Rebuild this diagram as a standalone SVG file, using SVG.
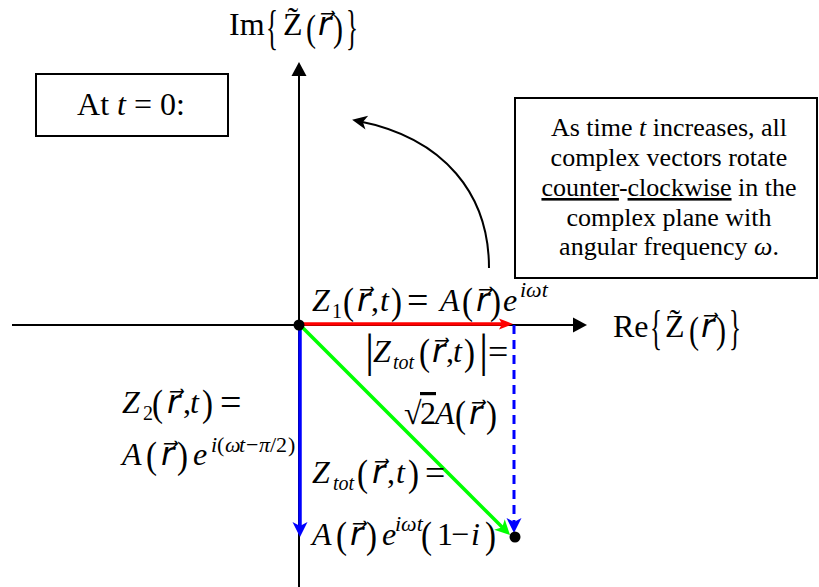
<svg xmlns="http://www.w3.org/2000/svg" width="819" height="587" viewBox="0 0 819 587">
<style>
.m{font-family:"Liberation Serif","DejaVu Serif","DejaVu Sans",serif;font-size:32px;fill:#000}
.i{font-style:italic}
.p{font-size:38px}
.b{font-size:48px}
.s{font-size:20px}
.sp{font-size:22px}
.eq{font-size:38px}
.t{font-family:"Liberation Serif","DejaVu Serif",serif;font-size:26px;fill:#000;text-anchor:middle}
.box{fill:#fff;stroke:#000;stroke-width:2}
.ax{stroke:#000;stroke-width:2;fill:none}
</style>
<defs>
<marker id="hAx" viewBox="-6 -9 18 18" refX="0" refY="0" markerWidth="18" markerHeight="18" markerUnits="userSpaceOnUse" orient="auto"><path d="M10,0 L-4,-7.5 L-4,7.5 Z" fill="#000"/></marker>
<marker id="hRed" viewBox="-10 -9 18 18" refX="0" refY="0" markerWidth="18" markerHeight="18" markerUnits="userSpaceOnUse" orient="auto"><path d="M6,0 L-8,-5.5 L-5,0 L-8,5.5 Z" fill="#f00"/></marker>
<marker id="hBlue" viewBox="-10 -9 18 18" refX="0" refY="0" markerWidth="18" markerHeight="18" markerUnits="userSpaceOnUse" orient="auto"><path d="M6,0 L-9,-7.5 L-5,0 L-9,7.5 Z" fill="#00f"/></marker>
<marker id="hGreen" viewBox="-10 -9 18 18" refX="0" refY="0" markerWidth="18" markerHeight="18" markerUnits="userSpaceOnUse" orient="auto"><path d="M6,0 L-9,-7.5 L-5,0 L-9,7.5 Z" fill="#0f0"/></marker>
<marker id="hBlk" viewBox="-10 -9 18 18" refX="0" refY="0" markerWidth="18" markerHeight="18" markerUnits="userSpaceOnUse" orient="auto"><path d="M6,0 L-9,-7 L-5,0 L-9,7 Z" fill="#000"/></marker>
</defs>
<rect width="819" height="587" fill="#fff"/>

<g id="axes">
<line class="ax" x1="299" y1="587" x2="299" y2="72" marker-end="url(#hAx)"/>
<line class="ax" x1="12" y1="325" x2="577" y2="325" marker-end="url(#hAx)"/>
</g>

<g id="connectors">
<line x1="514" y1="325" x2="514" y2="527" stroke="#00f" stroke-width="3" stroke-dasharray="9 6" marker-end="url(#hBlue)"/>
<line x1="300" y1="325" x2="300" y2="531" stroke="#00f" stroke-width="3.5" marker-end="url(#hBlue)"/>
<line x1="300" y1="325" x2="505.8" y2="530.8" stroke="#0f0" stroke-width="3.5" marker-end="url(#hGreen)"/>
<line x1="299" y1="324" x2="507" y2="324" stroke="#f00" stroke-width="3.5" marker-end="url(#hRed)"/>
<path d="M489,268 C489,195 445,138 358,121" fill="none" stroke="#000" stroke-width="2" marker-end="url(#hBlk)"/>
</g>

<g id="origin"><circle cx="299" cy="325" r="5.5" fill="#000"/></g>
<g id="tip"><circle cx="515" cy="537" r="5.5" fill="#000"/></g>

<g id="box-t0">
<rect class="box" x="36" y="74" width="192" height="62"/>
<text class="m" x="131" y="115" text-anchor="middle">At <tspan class="i">t</tspan> = 0:</text>
</g>

<g id="box-note">
<rect class="box" x="515" y="98" width="302" height="180"/>
<text class="t" x="669" y="136">As time <tspan class="i">t</tspan> increases, all</text>
<text class="t" x="669" y="166">complex vectors rotate</text>
<text class="t" x="669" y="196"><tspan text-decoration="underline">counter</tspan>-<tspan text-decoration="underline">clockwise</tspan> in the</text>
<text class="t" x="669" y="226">complex plane with</text>
<text class="t" x="669" y="255">angular frequency <tspan class="i">ω</tspan>.</text>
</g>

<g id="label-im">
<text class="m"><tspan x="229" y="35">Im</tspan><tspan class="b" x="266" y="44" textLength="12" lengthAdjust="spacingAndGlyphs">{</tspan><tspan x="283" y="35">Z̃</tspan><tspan class="p" x="306" y="41" textLength="10" lengthAdjust="spacingAndGlyphs">(</tspan><tspan class="i" x="318" y="35">r⃗</tspan><tspan class="p" x="333" y="41" textLength="10" lengthAdjust="spacingAndGlyphs">)</tspan><tspan class="b" x="346" y="44" textLength="12" lengthAdjust="spacingAndGlyphs">}</tspan></text>
</g>

<g id="label-re">
<text class="m"><tspan x="613" y="337">Re</tspan><tspan class="b" x="650" y="344" textLength="12" lengthAdjust="spacingAndGlyphs">{</tspan><tspan x="665" y="337">Z̃</tspan><tspan class="p" x="689" y="343" textLength="10" lengthAdjust="spacingAndGlyphs">(</tspan><tspan class="i" x="701" y="337">r⃗</tspan><tspan class="p" x="716" y="343" textLength="10" lengthAdjust="spacingAndGlyphs">)</tspan><tspan class="b" x="729" y="344" textLength="12" lengthAdjust="spacingAndGlyphs">}</tspan></text>
</g>

<g id="label-z1">
<text class="m"><tspan class="i" x="312" y="311">Z</tspan><tspan class="s" x="332" y="318">1</tspan><tspan class="p" x="343" y="314" textLength="11" lengthAdjust="spacingAndGlyphs">(</tspan><tspan class="i" x="357" y="311">r⃗</tspan><tspan x="371" y="311">,</tspan><tspan class="i" x="380" y="311">t</tspan><tspan class="p" x="391" y="314" textLength="11" lengthAdjust="spacingAndGlyphs">)</tspan><tspan class="eq" x="407" y="313">=</tspan><tspan class="i" x="440" y="311">A</tspan><tspan class="p" x="462" y="314" textLength="11" lengthAdjust="spacingAndGlyphs">(</tspan><tspan class="i" x="476" y="311">r⃗</tspan><tspan class="p" x="490" y="314" textLength="11" lengthAdjust="spacingAndGlyphs">)</tspan><tspan class="i" x="503" y="311">e</tspan><tspan class="i sp" x="520" y="297">iωt</tspan></text>
</g>

<g id="label-ztot-mag">
<text class="m"><tspan x="365" y="366" style="font-size:46px">|</tspan><tspan class="i" x="373" y="362">Z</tspan><tspan class="i s" x="393" y="369">tot</tspan><tspan class="p" x="419" y="365" textLength="11" lengthAdjust="spacingAndGlyphs">(</tspan><tspan class="i" x="432" y="362">r⃗</tspan><tspan x="446" y="362">,</tspan><tspan class="i" x="453" y="362">t</tspan><tspan class="p" x="464" y="365" textLength="11" lengthAdjust="spacingAndGlyphs">)</tspan><tspan x="479" y="366" style="font-size:46px">|</tspan><tspan style="font-size:36px" x="488" y="364">=</tspan></text>
<text class="m"><tspan x="404" y="424">√</tspan><tspan x="420" y="424" text-decoration="overline">2</tspan><tspan class="i" x="435" y="424">A</tspan><tspan class="p" x="455" y="427" textLength="11" lengthAdjust="spacingAndGlyphs">(</tspan><tspan class="i" x="469" y="424">r⃗</tspan><tspan class="p" x="486" y="427" textLength="11" lengthAdjust="spacingAndGlyphs">)</tspan></text>
</g>

<g id="label-z2">
<text class="m"><tspan class="i" x="122" y="413">Z</tspan><tspan class="s" x="143" y="420">2</tspan><tspan class="p" x="152" y="416" textLength="11" lengthAdjust="spacingAndGlyphs">(</tspan><tspan class="i" x="167" y="413">r⃗</tspan><tspan x="183" y="413">,</tspan><tspan class="i" x="190" y="413">t</tspan><tspan class="p" x="202" y="416" textLength="11" lengthAdjust="spacingAndGlyphs">)</tspan><tspan class="eq" x="220" y="415">=</tspan></text>
<text class="m"><tspan class="i" x="122" y="465">A</tspan><tspan class="p" x="146" y="468" textLength="11" lengthAdjust="spacingAndGlyphs">(</tspan><tspan class="i" x="161" y="465">r⃗</tspan><tspan class="p" x="177" y="468" textLength="11" lengthAdjust="spacingAndGlyphs">)</tspan><tspan class="i" x="193" y="465">e</tspan><tspan class="i sp" x="211" y="452">i</tspan><tspan class="sp" x="217" y="452">(</tspan><tspan class="i sp" x="225" y="452">ω</tspan><tspan class="i sp" x="239" y="452">t</tspan><tspan class="sp" x="246" y="452">−</tspan><tspan class="i sp" x="259" y="452">π</tspan><tspan class="sp" x="270" y="452">/</tspan><tspan class="sp" x="276" y="452">2</tspan><tspan class="sp" x="288" y="452">)</tspan></text>
</g>

<g id="label-ztot">
<text class="m"><tspan class="i" x="312" y="483">Z</tspan><tspan class="i s" x="333" y="490">tot</tspan><tspan class="p" x="357" y="486" textLength="11" lengthAdjust="spacingAndGlyphs">(</tspan><tspan class="i" x="372" y="483">r⃗</tspan><tspan x="387" y="483">,</tspan><tspan class="i" x="396" y="483">t</tspan><tspan class="p" x="408" y="486" textLength="11" lengthAdjust="spacingAndGlyphs">)</tspan><tspan style="font-size:36px" x="425" y="485">=</tspan></text>
<text class="m"><tspan class="i" x="312" y="545">A</tspan><tspan class="p" x="336" y="548" textLength="11" lengthAdjust="spacingAndGlyphs">(</tspan><tspan class="i" x="350" y="545">r⃗</tspan><tspan class="p" x="366" y="548" textLength="11" lengthAdjust="spacingAndGlyphs">)</tspan><tspan class="i" x="382" y="545">e</tspan><tspan class="i sp" x="395" y="531">iωt</tspan><tspan class="p" x="421" y="548" textLength="11" lengthAdjust="spacingAndGlyphs">(</tspan><tspan x="437" y="545">1</tspan><tspan x="451" y="545">−</tspan><tspan class="i" x="471" y="545">i</tspan><tspan class="p" x="485" y="548" textLength="11" lengthAdjust="spacingAndGlyphs">)</tspan></text>
</g>
</svg>
